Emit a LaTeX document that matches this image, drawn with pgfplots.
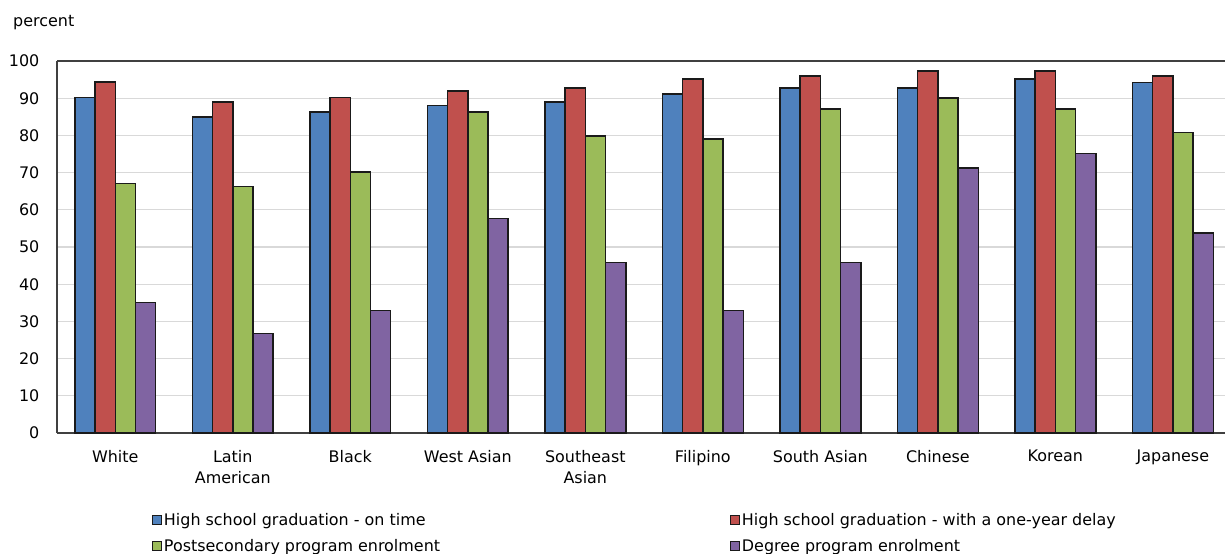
\documentclass[border=0pt]{standalone}
\usepackage{pgfplots}
\pgfplotsset{compat=1.18}
\usepackage{pgfplotstable}
\usepackage{fontspec}
\setmainfont{DejaVu Sans}
\definecolor{cblue}{HTML}{4F81BD}
\definecolor{cred}{HTML}{C0504D}
\definecolor{cgreen}{HTML}{9BBB59}
\definecolor{cpurple}{HTML}{8064A2}
\definecolor{edge}{HTML}{1A1A1A}
\definecolor{axisc}{HTML}{404040}
\definecolor{gridc}{HTML}{D9D9D9}

% columns: group index, on time, one-year delay, postsecondary, degree
\pgfplotstableread{
x ontime delay postsec degree
0 90.2 94.3 67.1 35.1
1 84.9 89.0 66.2 26.7
2 86.3 90.2 70.2 32.9
3 88.0 92.0 86.3 57.7
4 89.0 92.8 79.9 45.8
5 91.1 95.2 79.1 32.9
6 92.8 96.0 87.1 45.8
7 92.8 97.3 90.1 71.2
8 95.1 97.3 87.1 75.1
9 94.2 96.0 80.8 53.8
}\datatable

\begin{document}
\begin{tikzpicture}
\useasboundingbox (0,0) rectangle (1225bp,-554bp);
\node[anchor=base west, inner sep=0pt, font=\fontsize{16}{19}\selectfont] at (13bp,-26.5bp) {percent};
\begin{axis}[
  at={(57bp,-433bp)}, anchor=south west,
  scale only axis, width=1168bp, height=372bp,
  xmin=-0.496, xmax=9.444, ymin=0, ymax=100,
  axis x line*=box, axis y line*=left,
  axis line style={color=axisc, line width=1.5bp},
  ymajorgrids, grid style={color=gridc, line width=1.3bp},
  ytick={0,10,...,100},
  xtick={0,...,9},
  xticklabels={White,{Latin\\American},Black,{West Asian},{Southeast\\Asian},Filipino,{South Asian},Chinese,Korean,Japanese},
  major tick length=0pt,
  /pgf/number format/assume math mode=true,
  yticklabel style={anchor=east, inner sep=0pt, xshift=-17.5bp, font=\fontsize{16}{19}\selectfont},
  xticklabel style={align=center, anchor=north, inner sep=0pt, yshift=-17bp, font=\fontsize{16}{21.5}\selectfont},
  legend columns=2,
  legend style={at={(0.0813,-0.2095)}, anchor=north west, draw=none, fill=none,
    inner sep=0pt, outer sep=0pt, font=\fontsize{16}{19}\selectfont, row sep=9bp,
    nodes={inner xsep=2bp}, cells={anchor=west}},
  every axis plot/.append style={ybar, bar width=0.172, draw=edge, line width=1.5bp,
    legend image code/.code={\draw[##1, line width=1bp] (0bp,-4.5bp) rectangle (9bp,4.5bp);}},
]
\addplot[fill=cblue, bar shift=-0.258] table[x=x, y=ontime] {\datatable};
\addlegendentry{\makebox[564bp][l]{High school graduation - on time}}
\addplot[fill=cred, bar shift=-0.086] table[x=x, y=delay] {\datatable};
\addlegendentry{High school graduation - with a one-year delay}
\addplot[fill=cgreen, bar shift=0.086] table[x=x, y=postsec] {\datatable};
\addlegendentry{\makebox[564bp][l]{Postsecondary program enrolment}}
\addplot[fill=cpurple, bar shift=0.258] table[x=x, y=degree] {\datatable};
\addlegendentry{Degree program enrolment}
\end{axis}
\end{tikzpicture}
\end{document}
